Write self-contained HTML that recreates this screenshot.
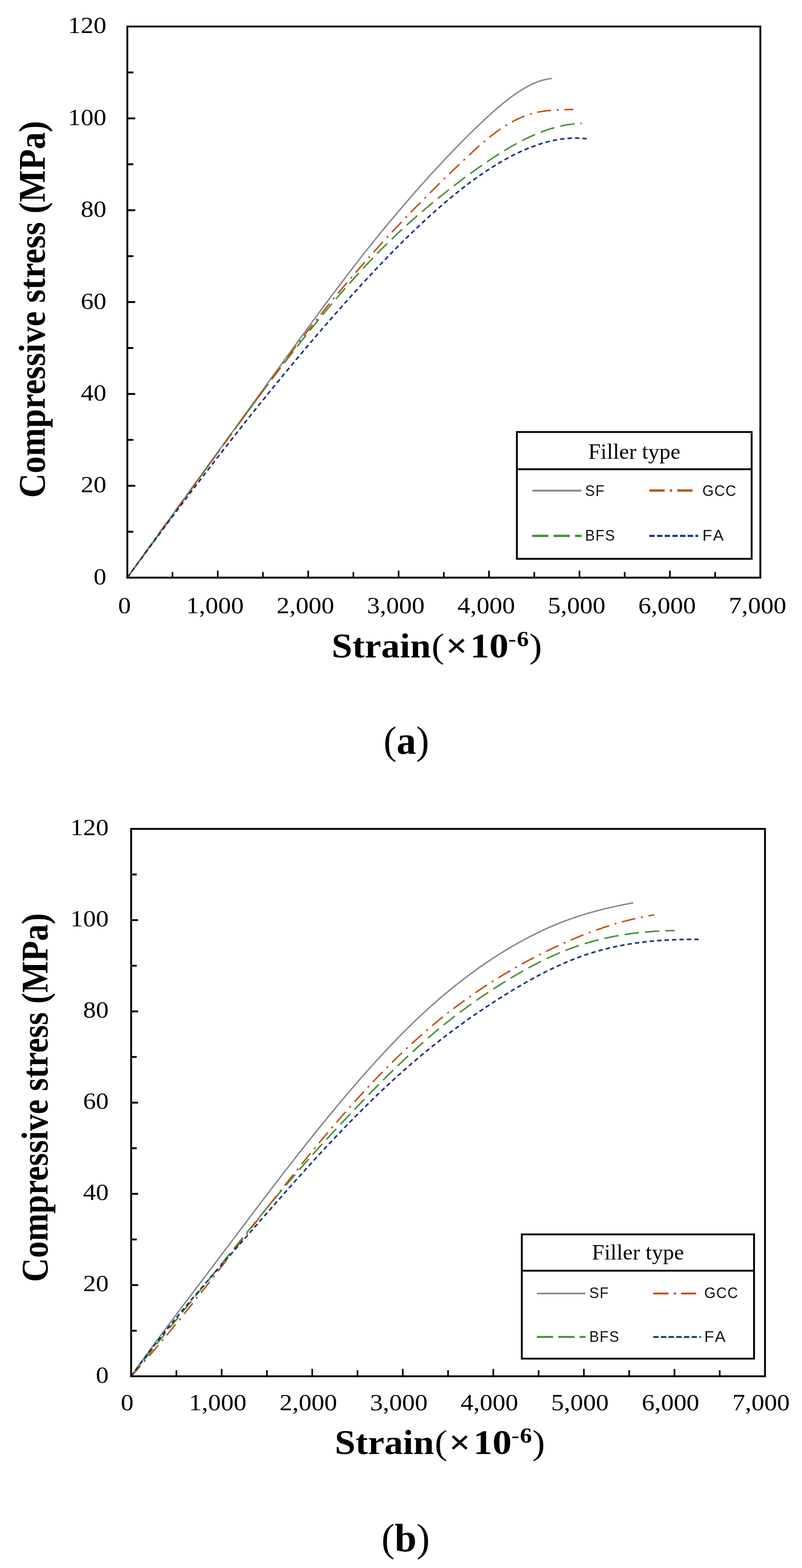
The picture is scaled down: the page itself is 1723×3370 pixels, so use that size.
<!DOCTYPE html>
<html><head><meta charset="utf-8"><title>Compressive stress-strain curves</title>
<style>html,body{margin:0;padding:0;background:#fff}body{width:1723px;height:3370px;overflow:hidden}svg{display:block}</style>
</head><body>
<svg width="1723" height="3370" viewBox="0 0 1723 3370">
<style>
.tk{font-family:"Liberation Serif",serif;fill:#000}
.bt{font-family:"Liberation Serif",serif;font-weight:bold;fill:#000}
.lg{font-family:"Liberation Sans",sans-serif;fill:#111}
.cap{font-family:"Liberation Serif",serif;fill:#000}
</style>
<rect width="1723" height="3370" fill="#fff"/>
<path d="M273.5,1241.5 L276.5,1237.3 L279.5,1233.1 L282.5,1228.9 L285.5,1224.8 L288.5,1220.6 L291.5,1216.4 L294.5,1212.2 L297.5,1208.0 L300.5,1203.9 L303.5,1199.7 L306.5,1195.5 L309.5,1191.3 L312.5,1187.2 L315.5,1183.0 L318.5,1178.8 L321.5,1174.6 L324.5,1170.5 L327.5,1166.3 L330.5,1162.1 L333.5,1158.0 L336.5,1153.8 L339.5,1149.6 L342.5,1145.5 L345.5,1141.3 L348.5,1137.1 L351.5,1133.0 L354.5,1128.8 L357.5,1124.6 L360.5,1120.5 L363.5,1116.3 L366.5,1112.1 L369.5,1108.0 L372.5,1103.8 L375.5,1099.7 L378.5,1095.5 L381.5,1091.3 L384.5,1087.2 L387.5,1083.0 L390.5,1078.9 L393.5,1074.7 L396.5,1070.5 L399.5,1066.4 L402.5,1062.2 L405.5,1058.1 L408.5,1053.9 L411.5,1049.7 L414.5,1045.6 L417.5,1041.4 L420.5,1037.3 L423.5,1033.1 L426.5,1029.0 L429.5,1024.8 L432.5,1020.7 L435.5,1016.5 L438.5,1012.3 L441.5,1008.2 L444.5,1004.0 L447.5,999.9 L450.5,995.7 L453.5,991.6 L456.5,987.4 L459.5,983.3 L462.5,979.1 L465.5,975.0 L468.5,970.8 L471.5,966.7 L474.5,962.5 L477.5,958.4 L480.5,954.2 L483.5,950.1 L486.5,945.9 L489.5,941.8 L492.5,937.6 L495.5,933.5 L498.5,929.3 L501.5,925.2 L504.5,921.0 L507.5,916.9 L510.5,912.7 L513.5,908.6 L516.5,904.4 L519.5,900.3 L522.5,896.1 L525.5,892.0 L528.5,887.8 L531.5,883.7 L534.5,879.6 L537.5,875.4 L540.5,871.3 L543.5,867.1 L546.5,863.0 L549.5,858.8 L552.5,854.7 L555.5,850.5 L558.5,846.4 L561.5,842.2 L564.5,838.1 L567.5,834.0 L570.5,829.8 L573.5,825.7 L576.5,821.5 L579.5,817.4 L582.5,813.2 L585.5,809.1 L588.5,805.0 L591.5,800.8 L594.5,796.7 L597.5,792.5 L600.5,788.4 L603.5,784.3 L606.5,780.1 L609.5,776.0 L612.5,771.8 L615.5,767.7 L618.5,763.6 L621.5,759.4 L624.5,755.3 L627.5,751.2 L630.5,747.0 L633.5,742.9 L636.5,738.8 L639.5,734.7 L642.5,730.6 L645.5,726.4 L648.5,722.3 L651.5,718.2 L654.5,714.1 L657.5,710.0 L660.5,705.9 L663.5,701.8 L666.5,697.7 L669.5,693.6 L672.5,689.5 L675.5,685.5 L678.5,681.4 L681.5,677.3 L684.5,673.2 L687.5,669.2 L690.5,665.1 L693.5,661.1 L696.5,657.0 L699.5,653.0 L702.5,649.0 L705.5,644.9 L708.5,640.9 L711.5,636.9 L714.5,632.9 L717.5,628.9 L720.5,624.9 L723.5,620.9 L726.5,616.9 L729.5,613.0 L732.5,609.0 L735.5,605.0 L738.5,601.1 L741.5,597.1 L744.5,593.2 L747.5,589.3 L750.5,585.4 L753.5,581.5 L756.5,577.6 L759.5,573.7 L762.5,569.8 L765.5,565.9 L768.5,562.1 L771.5,558.2 L774.5,554.4 L777.5,550.6 L780.5,546.7 L783.5,542.9 L786.5,539.1 L789.5,535.4 L792.5,531.6 L795.5,527.8 L798.5,524.1 L801.5,520.3 L804.5,516.6 L807.5,512.9 L810.5,509.2 L813.5,505.5 L816.5,501.8 L819.5,498.1 L822.5,494.5 L825.5,490.8 L828.5,487.2 L831.5,483.6 L834.5,480.0 L837.5,476.3 L840.5,472.8 L843.5,469.2 L846.5,465.6 L849.5,462.0 L852.5,458.5 L855.5,454.9 L858.5,451.4 L861.5,447.9 L864.5,444.4 L867.5,440.9 L870.5,437.4 L873.5,433.9 L876.5,430.4 L879.5,427.0 L882.5,423.5 L885.5,420.1 L888.5,416.6 L891.5,413.2 L894.5,409.8 L897.5,406.4 L900.5,403.0 L903.5,399.6 L906.5,396.3 L909.5,392.9 L912.5,389.6 L915.5,386.2 L918.5,382.9 L921.5,379.6 L924.5,376.3 L927.5,373.0 L930.5,369.7 L933.5,366.4 L936.5,363.2 L939.5,359.9 L942.5,356.7 L945.5,353.4 L948.5,350.2 L951.5,347.0 L954.5,343.8 L957.5,340.6 L960.5,337.4 L963.5,334.3 L966.5,331.1 L969.5,328.0 L972.5,324.9 L975.5,321.7 L978.5,318.6 L981.5,315.5 L984.5,312.5 L987.5,309.4 L990.5,306.3 L993.5,303.3 L996.5,300.3 L999.5,297.3 L1002.5,294.3 L1005.5,291.3 L1008.5,288.3 L1011.5,285.3 L1014.5,282.4 L1017.5,279.5 L1020.5,276.5 L1023.5,273.6 L1026.5,270.8 L1029.5,267.9 L1032.5,265.0 L1035.5,262.2 L1038.5,259.4 L1041.5,256.6 L1044.5,253.8 L1047.5,251.0 L1050.5,248.3 L1053.5,245.6 L1056.5,242.9 L1059.5,240.2 L1062.5,237.6 L1065.5,235.0 L1068.5,232.4 L1071.5,229.8 L1074.5,227.3 L1077.5,224.8 L1080.5,222.3 L1083.5,219.9 L1086.5,217.5 L1089.5,215.2 L1092.5,212.8 L1095.5,210.6 L1098.5,208.3 L1101.5,206.1 L1104.5,204.0 L1107.5,201.9 L1110.5,199.8 L1113.5,197.8 L1116.5,195.9 L1119.5,194.0 L1122.5,192.1 L1125.5,190.3 L1128.5,188.6 L1131.5,186.9 L1134.5,185.3 L1137.5,183.7 L1140.5,182.2 L1143.5,180.8 L1146.5,179.4 L1149.5,178.1 L1152.5,176.9 L1155.5,175.7 L1158.5,174.7 L1161.5,173.7 L1164.5,172.8 L1167.5,171.9 L1170.5,171.2 L1173.5,170.5 L1176.5,169.9 L1179.5,169.4 L1182.5,169.0 L1185.5,168.7 L1186.0,168.7" fill="none" stroke="#868686" stroke-width="3.0" stroke-linejoin="round"/>
<path d="M273.5,1241.5 L276.5,1237.4 L279.5,1233.3 L282.5,1229.2 L285.5,1225.2 L288.5,1221.1 L291.5,1217.0 L294.5,1212.9 L297.5,1208.8 L300.5,1204.6 L303.5,1200.5 L306.5,1196.4 L309.5,1192.3 L312.5,1188.2 L315.5,1184.0 L318.5,1179.9 L321.5,1175.8 L324.5,1171.6 L327.5,1167.5 L330.5,1163.4 L333.5,1159.2 L336.5,1155.1 L339.5,1150.9 L342.5,1146.8 L345.5,1142.6 L348.5,1138.5 L351.5,1134.3 L354.5,1130.2 L357.5,1126.0 L360.5,1121.8 L363.5,1117.7 L366.5,1113.5 L369.5,1109.3 L372.5,1105.2 L375.5,1101.0 L378.5,1096.8 L381.5,1092.7 L384.5,1088.5 L387.5,1084.3 L390.5,1080.2 L393.5,1076.0 L396.5,1071.8 L399.5,1067.7 L402.5,1063.5 L405.5,1059.3 L408.5,1055.1 L411.5,1051.0 L414.5,1046.8 L417.5,1042.6 L420.5,1038.5 L423.5,1034.3 L426.5,1030.1 L429.5,1025.9 L432.5,1021.8 L435.5,1017.6 L438.5,1013.4 L441.5,1009.3 L444.5,1005.1 L447.5,1001.0 L450.5,996.8 L453.5,992.6 L456.5,988.5 L459.5,984.3 L462.5,980.2 L465.5,976.0 L468.5,971.9 L471.5,967.7 L474.5,963.6 L477.5,959.5 L480.5,955.3 L483.5,951.2 L486.5,947.1 L489.5,942.9 L492.5,938.8 L495.5,934.7 L498.5,930.6 L501.5,926.5 L504.5,922.4 L507.5,918.3 L510.5,914.1 L513.5,910.1 L516.5,906.0 L519.5,901.9 L522.5,897.8 L525.5,893.7 L528.5,889.6 L531.5,885.6 L534.5,881.5 L537.5,877.4 L540.5,873.4 L543.5,869.3 L546.5,865.3 L549.5,861.2 L552.5,857.2 L555.5,853.2 L558.5,849.1 L561.5,845.1 L564.5,841.1 L567.5,837.1 L570.5,833.1 L573.5,829.1 L576.5,825.1 L579.5,821.2 L582.5,817.2 L585.5,813.2 L588.5,809.3 L591.5,805.3 L594.5,801.4 L597.5,797.4 L600.5,793.5 L603.5,789.6 L606.5,785.7 L609.5,781.8 L612.5,777.9 L615.5,774.0 L618.5,770.1 L621.5,766.2 L624.5,762.4 L627.5,758.5 L630.5,754.7 L633.5,750.8 L636.5,747.0 L639.5,743.2 L642.5,739.4 L645.5,735.6 L648.5,731.8 L651.5,728.0 L654.5,724.2 L657.5,720.5 L660.5,716.7 L663.5,713.0 L666.5,709.3 L669.5,705.5 L672.5,701.8 L675.5,698.1 L678.5,694.4 L681.5,690.8 L684.5,687.1 L687.5,683.4 L690.5,679.8 L693.5,676.2 L696.5,672.5 L699.5,668.9 L702.5,665.3 L705.5,661.8 L708.5,658.2 L711.5,654.6 L714.5,651.1 L717.5,647.5 L720.5,644.0 L723.5,640.5 L726.5,637.0 L729.5,633.5 L732.5,630.1 L735.5,626.6 L738.5,623.2 L741.5,619.7 L744.5,616.3 L747.5,612.9 L750.5,609.5 L753.5,606.1 L756.5,602.8 L759.5,599.4 L762.5,596.1 L765.5,592.8 L768.5,589.5 L771.5,586.2 L774.5,582.9 L777.5,579.7 L780.5,576.4 L783.5,573.2 L786.5,570.0 L789.5,566.8 L792.5,563.6 L795.5,560.4 L798.5,557.3 L801.5,554.2 L804.5,551.0 L807.5,548.0 L810.5,544.9 L813.5,541.8 L816.5,538.8 L819.5,535.7 L822.5,532.7 L825.5,529.7 L828.5,526.7 L831.5,523.8 L834.5,520.8 L837.5,517.9 L840.5,515.0 L843.5,512.1 L846.5,509.2 L849.5,506.4 L852.5,503.5 L855.5,500.7 L858.5,497.9 L861.5,495.1 L864.5,492.3 L867.5,489.6 L870.5,486.8 L873.5,484.1 L876.5,481.4 L879.5,478.7 L882.5,476.0 L885.5,473.3 L888.5,470.7 L891.5,468.1 L894.5,465.4 L897.5,462.8 L900.5,460.2 L903.5,457.6 L906.5,455.1 L909.5,452.5 L912.5,450.0 L915.5,447.4 L918.5,444.9 L921.5,442.4 L924.5,439.9 L927.5,437.4 L930.5,434.9 L933.5,432.4 L936.5,430.0 L939.5,427.5 L942.5,425.1 L945.5,422.7 L948.5,420.3 L951.5,417.9 L954.5,415.5 L957.5,413.1 L960.5,410.7 L963.5,408.4 L966.5,406.0 L969.5,403.7 L972.5,401.3 L975.5,399.0 L978.5,396.7 L981.5,394.4 L984.5,392.2 L987.5,389.9 L990.5,387.6 L993.5,385.4 L996.5,383.1 L999.5,380.9 L1002.5,378.7 L1005.5,376.5 L1008.5,374.3 L1011.5,372.1 L1014.5,370.0 L1017.5,367.8 L1020.5,365.7 L1023.5,363.6 L1026.5,361.4 L1029.5,359.3 L1032.5,357.2 L1035.5,355.2 L1038.5,353.1 L1041.5,351.0 L1044.5,349.0 L1047.5,347.0 L1050.5,345.0 L1053.5,343.0 L1056.5,341.0 L1059.5,339.0 L1062.5,337.0 L1065.5,335.1 L1068.5,333.2 L1071.5,331.3 L1074.5,329.4 L1077.5,327.5 L1080.5,325.7 L1083.5,323.8 L1086.5,322.0 L1089.5,320.2 L1092.5,318.4 L1095.5,316.7 L1098.5,314.9 L1101.5,313.2 L1104.5,311.5 L1107.5,309.9 L1110.5,308.2 L1113.5,306.6 L1116.5,305.0 L1119.5,303.4 L1122.5,301.9 L1125.5,300.4 L1128.5,298.9 L1131.5,297.4 L1134.5,296.0 L1137.5,294.5 L1140.5,293.1 L1143.5,291.8 L1146.5,290.5 L1149.5,289.1 L1152.5,287.9 L1155.5,286.6 L1158.5,285.4 L1161.5,284.2 L1164.5,283.1 L1167.5,282.0 L1170.5,280.9 L1173.5,279.8 L1176.5,278.8 L1179.5,277.8 L1182.5,276.9 L1185.5,275.9 L1188.5,275.1 L1191.5,274.2 L1194.5,273.4 L1197.5,272.6 L1200.5,271.9 L1203.5,271.2 L1206.5,270.5 L1209.5,269.9 L1212.5,269.3 L1215.5,268.7 L1218.5,268.2 L1221.5,267.8 L1224.5,267.3 L1227.5,267.0 L1230.5,266.6 L1233.5,266.3 L1236.5,266.0 L1239.5,265.8 L1242.5,265.6 L1245.5,265.5 L1248.5,265.4 L1249.8,265.4" fill="none" stroke="#449137" stroke-width="3.2" stroke-dasharray="31 13" stroke-linejoin="round"/>
<path d="M273.5,1241.5 L276.5,1237.3 L279.5,1233.0 L282.5,1228.8 L285.5,1224.6 L288.5,1220.3 L291.5,1216.1 L294.5,1211.9 L297.5,1207.7 L300.5,1203.5 L303.5,1199.3 L306.5,1195.1 L309.5,1190.9 L312.5,1186.7 L315.5,1182.5 L318.5,1178.3 L321.5,1174.2 L324.5,1170.0 L327.5,1165.8 L330.5,1161.7 L333.5,1157.5 L336.5,1153.3 L339.5,1149.2 L342.5,1145.0 L345.5,1140.9 L348.5,1136.7 L351.5,1132.6 L354.5,1128.4 L357.5,1124.3 L360.5,1120.1 L363.5,1116.0 L366.5,1111.9 L369.5,1107.7 L372.5,1103.6 L375.5,1099.5 L378.5,1095.3 L381.5,1091.2 L384.5,1087.1 L387.5,1083.0 L390.5,1078.8 L393.5,1074.7 L396.5,1070.6 L399.5,1066.5 L402.5,1062.4 L405.5,1058.3 L408.5,1054.1 L411.5,1050.0 L414.5,1045.9 L417.5,1041.8 L420.5,1037.7 L423.5,1033.6 L426.5,1029.5 L429.5,1025.4 L432.5,1021.3 L435.5,1017.2 L438.5,1013.1 L441.5,1009.0 L444.5,1004.9 L447.5,1000.7 L450.5,996.6 L453.5,992.5 L456.5,988.4 L459.5,984.3 L462.5,980.2 L465.5,976.1 L468.5,972.0 L471.5,967.9 L474.5,963.8 L477.5,959.7 L480.5,955.6 L483.5,951.5 L486.5,947.4 L489.5,943.2 L492.5,939.1 L495.5,935.0 L498.5,930.9 L501.5,926.8 L504.5,922.7 L507.5,918.6 L510.5,914.4 L513.5,910.3 L516.5,906.2 L519.5,902.1 L522.5,897.9 L525.5,893.8 L528.5,889.7 L531.5,885.5 L534.5,881.4 L537.5,877.3 L540.5,873.1 L543.5,869.0 L546.5,864.9 L549.5,860.8 L552.5,856.6 L555.5,852.5 L558.5,848.4 L561.5,844.3 L564.5,840.1 L567.5,836.0 L570.5,831.9 L573.5,827.8 L576.5,823.7 L579.5,819.6 L582.5,815.5 L585.5,811.4 L588.5,807.3 L591.5,803.2 L594.5,799.2 L597.5,795.1 L600.5,791.0 L603.5,787.0 L606.5,782.9 L609.5,778.9 L612.5,774.9 L615.5,770.9 L618.5,766.8 L621.5,762.8 L624.5,758.9 L627.5,754.9 L630.5,750.9 L633.5,746.9 L636.5,743.0 L639.5,739.0 L642.5,735.1 L645.5,731.2 L648.5,727.3 L651.5,723.4 L654.5,719.5 L657.5,715.7 L660.5,711.8 L663.5,708.0 L666.5,704.1 L669.5,700.3 L672.5,696.5 L675.5,692.7 L678.5,688.9 L681.5,685.2 L684.5,681.4 L687.5,677.7 L690.5,673.9 L693.5,670.2 L696.5,666.5 L699.5,662.8 L702.5,659.1 L705.5,655.4 L708.5,651.8 L711.5,648.1 L714.5,644.5 L717.5,640.8 L720.5,637.2 L723.5,633.6 L726.5,630.0 L729.5,626.4 L732.5,622.8 L735.5,619.3 L738.5,615.7 L741.5,612.2 L744.5,608.6 L747.5,605.1 L750.5,601.6 L753.5,598.1 L756.5,594.6 L759.5,591.1 L762.5,587.6 L765.5,584.1 L768.5,580.7 L771.5,577.2 L774.5,573.8 L777.5,570.4 L780.5,567.0 L783.5,563.6 L786.5,560.2 L789.5,556.8 L792.5,553.4 L795.5,550.0 L798.5,546.7 L801.5,543.3 L804.5,540.0 L807.5,536.6 L810.5,533.3 L813.5,530.0 L816.5,526.7 L819.5,523.4 L822.5,520.1 L825.5,516.9 L828.5,513.6 L831.5,510.3 L834.5,507.1 L837.5,503.9 L840.5,500.6 L843.5,497.4 L846.5,494.2 L849.5,491.0 L852.5,487.8 L855.5,484.6 L858.5,481.5 L861.5,478.3 L864.5,475.2 L867.5,472.0 L870.5,468.9 L873.5,465.7 L876.5,462.6 L879.5,459.5 L882.5,456.4 L885.5,453.3 L888.5,450.2 L891.5,447.1 L894.5,444.1 L897.5,441.0 L900.5,438.0 L903.5,434.9 L906.5,431.9 L909.5,428.8 L912.5,425.8 L915.5,422.8 L918.5,419.8 L921.5,416.8 L924.5,413.8 L927.5,410.8 L930.5,407.8 L933.5,404.8 L936.5,401.9 L939.5,398.9 L942.5,396.0 L945.5,393.0 L948.5,390.1 L951.5,387.2 L954.5,384.2 L957.5,381.3 L960.5,378.4 L963.5,375.5 L966.5,372.6 L969.5,369.7 L972.5,366.8 L975.5,363.9 L978.5,361.1 L981.5,358.2 L984.5,355.3 L987.5,352.5 L990.5,349.6 L993.5,346.8 L996.5,344.0 L999.5,341.2 L1002.5,338.3 L1005.5,335.5 L1008.5,332.7 L1011.5,330.0 L1014.5,327.2 L1017.5,324.4 L1020.5,321.7 L1023.5,319.0 L1026.5,316.3 L1029.5,313.6 L1032.5,311.0 L1035.5,308.4 L1038.5,305.8 L1041.5,303.2 L1044.5,300.7 L1047.5,298.2 L1050.5,295.8 L1053.5,293.3 L1056.5,291.0 L1059.5,288.7 L1062.5,286.4 L1065.5,284.1 L1068.5,281.9 L1071.5,279.8 L1074.5,277.7 L1077.5,275.7 L1080.5,273.7 L1083.5,271.8 L1086.5,269.9 L1089.5,268.1 L1092.5,266.3 L1095.5,264.6 L1098.5,262.9 L1101.5,261.2 L1104.5,259.7 L1107.5,258.1 L1110.5,256.7 L1113.5,255.3 L1116.5,253.9 L1119.5,252.6 L1122.5,251.3 L1125.5,250.1 L1128.5,249.0 L1131.5,247.9 L1134.5,246.8 L1137.5,245.9 L1140.5,244.9 L1143.5,244.1 L1146.5,243.2 L1149.5,242.5 L1152.5,241.8 L1155.5,241.1 L1158.5,240.5 L1161.5,240.0 L1164.5,239.5 L1167.5,239.0 L1170.5,238.6 L1173.5,238.2 L1176.5,237.9 L1179.5,237.6 L1182.5,237.3 L1185.5,237.1 L1188.5,236.8 L1191.5,236.6 L1194.5,236.5 L1197.5,236.3 L1200.5,236.2 L1203.5,236.0 L1206.5,235.9 L1209.5,235.8 L1212.5,235.7 L1215.5,235.6 L1218.5,235.6 L1221.5,235.5 L1224.5,235.4 L1227.5,235.3 L1230.5,235.2 L1231.7,235.2" fill="none" stroke="#bf5216" stroke-width="3.2" stroke-dasharray="30 12 4.5 12" stroke-linejoin="round"/>
<path d="M273.5,1241.5 L276.5,1237.4 L279.5,1233.3 L282.5,1229.2 L285.5,1225.1 L288.5,1221.0 L291.5,1216.8 L294.5,1212.8 L297.5,1208.7 L300.5,1204.6 L303.5,1200.5 L306.5,1196.4 L309.5,1192.3 L312.5,1188.2 L315.5,1184.2 L318.5,1180.1 L321.5,1176.0 L324.5,1172.0 L327.5,1167.9 L330.5,1163.9 L333.5,1159.8 L336.5,1155.8 L339.5,1151.7 L342.5,1147.7 L345.5,1143.6 L348.5,1139.6 L351.5,1135.6 L354.5,1131.6 L357.5,1127.5 L360.5,1123.5 L363.5,1119.5 L366.5,1115.5 L369.5,1111.5 L372.5,1107.5 L375.5,1103.5 L378.5,1099.5 L381.5,1095.5 L384.5,1091.5 L387.5,1087.5 L390.5,1083.6 L393.5,1079.6 L396.5,1075.6 L399.5,1071.7 L402.5,1067.7 L405.5,1063.7 L408.5,1059.8 L411.5,1055.8 L414.5,1051.9 L417.5,1048.0 L420.5,1044.0 L423.5,1040.1 L426.5,1036.2 L429.5,1032.2 L432.5,1028.3 L435.5,1024.4 L438.5,1020.5 L441.5,1016.6 L444.5,1012.7 L447.5,1008.8 L450.5,1004.9 L453.5,1001.0 L456.5,997.1 L459.5,993.3 L462.5,989.4 L465.5,985.5 L468.5,981.7 L471.5,977.8 L474.5,973.9 L477.5,970.1 L480.5,966.2 L483.5,962.4 L486.5,958.6 L489.5,954.7 L492.5,950.9 L495.5,947.1 L498.5,943.2 L501.5,939.4 L504.5,935.6 L507.5,931.8 L510.5,928.0 L513.5,924.2 L516.5,920.4 L519.5,916.6 L522.5,912.8 L525.5,909.1 L528.5,905.3 L531.5,901.5 L534.5,897.8 L537.5,894.0 L540.5,890.2 L543.5,886.5 L546.5,882.7 L549.5,879.0 L552.5,875.3 L555.5,871.5 L558.5,867.8 L561.5,864.1 L564.5,860.4 L567.5,856.7 L570.5,852.9 L573.5,849.2 L576.5,845.5 L579.5,841.8 L582.5,838.2 L585.5,834.5 L588.5,830.8 L591.5,827.1 L594.5,823.5 L597.5,819.8 L600.5,816.1 L603.5,812.5 L606.5,808.8 L609.5,805.2 L612.5,801.6 L615.5,797.9 L618.5,794.3 L621.5,790.7 L624.5,787.1 L627.5,783.5 L630.5,779.9 L633.5,776.3 L636.5,772.7 L639.5,769.1 L642.5,765.5 L645.5,761.9 L648.5,758.3 L651.5,754.8 L654.5,751.2 L657.5,747.7 L660.5,744.1 L663.5,740.6 L666.5,737.0 L669.5,733.5 L672.5,730.0 L675.5,726.5 L678.5,722.9 L681.5,719.4 L684.5,715.9 L687.5,712.4 L690.5,709.0 L693.5,705.5 L696.5,702.0 L699.5,698.5 L702.5,695.1 L705.5,691.6 L708.5,688.2 L711.5,684.7 L714.5,681.3 L717.5,677.9 L720.5,674.4 L723.5,671.0 L726.5,667.6 L729.5,664.2 L732.5,660.8 L735.5,657.4 L738.5,654.0 L741.5,650.7 L744.5,647.3 L747.5,644.0 L750.5,640.6 L753.5,637.3 L756.5,633.9 L759.5,630.6 L762.5,627.3 L765.5,624.0 L768.5,620.7 L771.5,617.4 L774.5,614.1 L777.5,610.8 L780.5,607.6 L783.5,604.3 L786.5,601.1 L789.5,597.8 L792.5,594.6 L795.5,591.4 L798.5,588.2 L801.5,585.0 L804.5,581.8 L807.5,578.6 L810.5,575.4 L813.5,572.3 L816.5,569.1 L819.5,566.0 L822.5,562.8 L825.5,559.7 L828.5,556.6 L831.5,553.5 L834.5,550.4 L837.5,547.3 L840.5,544.2 L843.5,541.2 L846.5,538.1 L849.5,535.1 L852.5,532.1 L855.5,529.0 L858.5,526.0 L861.5,523.0 L864.5,520.1 L867.5,517.1 L870.5,514.1 L873.5,511.2 L876.5,508.2 L879.5,505.3 L882.5,502.4 L885.5,499.5 L888.5,496.6 L891.5,493.7 L894.5,490.9 L897.5,488.0 L900.5,485.2 L903.5,482.4 L906.5,479.6 L909.5,476.8 L912.5,474.0 L915.5,471.2 L918.5,468.5 L921.5,465.7 L924.5,463.0 L927.5,460.3 L930.5,457.6 L933.5,454.9 L936.5,452.3 L939.5,449.6 L942.5,447.0 L945.5,444.4 L948.5,441.8 L951.5,439.2 L954.5,436.6 L957.5,434.1 L960.5,431.5 L963.5,429.0 L966.5,426.5 L969.5,424.0 L972.5,421.5 L975.5,419.1 L978.5,416.6 L981.5,414.2 L984.5,411.8 L987.5,409.4 L990.5,407.0 L993.5,404.7 L996.5,402.4 L999.5,400.1 L1002.5,397.8 L1005.5,395.5 L1008.5,393.2 L1011.5,391.0 L1014.5,388.8 L1017.5,386.6 L1020.5,384.4 L1023.5,382.3 L1026.5,380.1 L1029.5,378.0 L1032.5,375.9 L1035.5,373.8 L1038.5,371.8 L1041.5,369.8 L1044.5,367.8 L1047.5,365.8 L1050.5,363.8 L1053.5,361.9 L1056.5,360.0 L1059.5,358.1 L1062.5,356.2 L1065.5,354.4 L1068.5,352.5 L1071.5,350.7 L1074.5,349.0 L1077.5,347.2 L1080.5,345.5 L1083.5,343.8 L1086.5,342.1 L1089.5,340.5 L1092.5,338.8 L1095.5,337.2 L1098.5,335.7 L1101.5,334.1 L1104.5,332.6 L1107.5,331.1 L1110.5,329.6 L1113.5,328.2 L1116.5,326.8 L1119.5,325.4 L1122.5,324.1 L1125.5,322.7 L1128.5,321.4 L1131.5,320.2 L1134.5,318.9 L1137.5,317.7 L1140.5,316.6 L1143.5,315.4 L1146.5,314.3 L1149.5,313.2 L1152.5,312.1 L1155.5,311.1 L1158.5,310.1 L1161.5,309.2 L1164.5,308.2 L1167.5,307.4 L1170.5,306.5 L1173.5,305.7 L1176.5,304.9 L1179.5,304.1 L1182.5,303.4 L1185.5,302.7 L1188.5,302.0 L1191.5,301.4 L1194.5,300.9 L1197.5,300.3 L1200.5,299.8 L1203.5,299.3 L1206.5,298.9 L1209.5,298.5 L1212.5,298.2 L1215.5,297.8 L1218.5,297.6 L1221.5,297.3 L1224.5,297.2 L1227.5,297.0 L1230.5,296.9 L1233.5,296.8 L1236.5,296.8 L1239.5,296.8 L1242.5,296.9 L1245.5,297.0 L1248.5,297.2 L1251.5,297.4 L1254.5,297.6 L1257.5,297.9 L1260.4,298.2" fill="none" stroke="#12337f" stroke-width="3.4" stroke-dasharray="9.5 6.5" stroke-linejoin="round"/>
<rect x="273.5" y="57" width="1360.0" height="1184.5" fill="none" stroke="#000" stroke-width="4"/>
<line x1="273.5" y1="1142.8" x2="286.5" y2="1142.8" stroke="#000" stroke-width="4"/>
<line x1="273.5" y1="1044.1" x2="290.5" y2="1044.1" stroke="#000" stroke-width="4"/>
<line x1="273.5" y1="945.4" x2="286.5" y2="945.4" stroke="#000" stroke-width="4"/>
<line x1="273.5" y1="846.7" x2="290.5" y2="846.7" stroke="#000" stroke-width="4"/>
<line x1="273.5" y1="748.0" x2="286.5" y2="748.0" stroke="#000" stroke-width="4"/>
<line x1="273.5" y1="649.2" x2="290.5" y2="649.2" stroke="#000" stroke-width="4"/>
<line x1="273.5" y1="550.5" x2="286.5" y2="550.5" stroke="#000" stroke-width="4"/>
<line x1="273.5" y1="451.8" x2="290.5" y2="451.8" stroke="#000" stroke-width="4"/>
<line x1="273.5" y1="353.1" x2="286.5" y2="353.1" stroke="#000" stroke-width="4"/>
<line x1="273.5" y1="254.4" x2="290.5" y2="254.4" stroke="#000" stroke-width="4"/>
<line x1="273.5" y1="155.7" x2="286.5" y2="155.7" stroke="#000" stroke-width="4"/>
<line x1="370.6" y1="1241.5" x2="370.6" y2="1229.5" stroke="#000" stroke-width="3.5"/>
<line x1="467.8" y1="1241.5" x2="467.8" y2="1226.5" stroke="#000" stroke-width="3.5"/>
<line x1="564.9" y1="1241.5" x2="564.9" y2="1229.5" stroke="#000" stroke-width="3.5"/>
<line x1="662.1" y1="1241.5" x2="662.1" y2="1226.5" stroke="#000" stroke-width="3.5"/>
<line x1="759.2" y1="1241.5" x2="759.2" y2="1229.5" stroke="#000" stroke-width="3.5"/>
<line x1="856.4" y1="1241.5" x2="856.4" y2="1226.5" stroke="#000" stroke-width="3.5"/>
<line x1="953.5" y1="1241.5" x2="953.5" y2="1229.5" stroke="#000" stroke-width="3.5"/>
<line x1="1050.6" y1="1241.5" x2="1050.6" y2="1226.5" stroke="#000" stroke-width="3.5"/>
<line x1="1147.8" y1="1241.5" x2="1147.8" y2="1229.5" stroke="#000" stroke-width="3.5"/>
<line x1="1244.9" y1="1241.5" x2="1244.9" y2="1226.5" stroke="#000" stroke-width="3.5"/>
<line x1="1342.1" y1="1241.5" x2="1342.1" y2="1229.5" stroke="#000" stroke-width="3.5"/>
<line x1="1439.2" y1="1241.5" x2="1439.2" y2="1226.5" stroke="#000" stroke-width="3.5"/>
<line x1="1536.4" y1="1241.5" x2="1536.4" y2="1229.5" stroke="#000" stroke-width="3.5"/>
<text transform="translate(228.5,1255.8) scale(1.1,1)" text-anchor="end" class="tk" font-size="50">0</text>
<text transform="translate(228.5,1058.4) scale(1.1,1)" text-anchor="end" class="tk" font-size="50">20</text>
<text transform="translate(228.5,861.0) scale(1.1,1)" text-anchor="end" class="tk" font-size="50">40</text>
<text transform="translate(228.5,663.5) scale(1.1,1)" text-anchor="end" class="tk" font-size="50">60</text>
<text transform="translate(228.5,466.1) scale(1.1,1)" text-anchor="end" class="tk" font-size="50">80</text>
<text transform="translate(228.5,268.7) scale(1.1,1)" text-anchor="end" class="tk" font-size="50">100</text>
<text transform="translate(228.5,71.3) scale(1.1,1)" text-anchor="end" class="tk" font-size="50">120</text>
<text transform="translate(267.5,1317.5) scale(1.1,1)" text-anchor="middle" class="tk" font-size="50">0</text>
<text transform="translate(461.8,1317.5) scale(1.1,1)" text-anchor="middle" class="tk" font-size="50">1,000</text>
<text transform="translate(656.1,1317.5) scale(1.1,1)" text-anchor="middle" class="tk" font-size="50">2,000</text>
<text transform="translate(850.4,1317.5) scale(1.1,1)" text-anchor="middle" class="tk" font-size="50">3,000</text>
<text transform="translate(1044.6,1317.5) scale(1.1,1)" text-anchor="middle" class="tk" font-size="50">4,000</text>
<text transform="translate(1238.9,1317.5) scale(1.1,1)" text-anchor="middle" class="tk" font-size="50">5,000</text>
<text transform="translate(1433.2,1317.5) scale(1.1,1)" text-anchor="middle" class="tk" font-size="50">6,000</text>
<text transform="translate(1627.5,1317.5) scale(1.1,1)" text-anchor="middle" class="tk" font-size="50">7,000</text>
<text transform="translate(96,665) rotate(-90) scale(0.915,1)" text-anchor="middle" class="bt" font-size="80">Compressive stress (MPa)</text>
<text transform="translate(712.6,1413.0) scale(1.065,1)" class="bt" font-size="75">Strain</text>
<text transform="translate(927.0,1413.0) scale(1.1,1)" class="tk" font-size="75">(</text>
<text transform="translate(957.5,1413.0) scale(1.1,1)" class="bt" font-size="75">×</text>
<text transform="translate(1010.0,1413.0) scale(1.1,1)" class="bt" font-size="75">10</text>
<text transform="translate(1092.0,1388.0) scale(1.1,1)" class="tk" font-size="46">-</text>
<text transform="translate(1110.2,1389.2) scale(1.1,1)" class="bt" font-size="47">6</text>
<text transform="translate(1136.9,1413.0) scale(1.1,1)" class="tk" font-size="75">)</text>
<rect x="1110.5" y="928.5" width="504.29999999999995" height="272.5" fill="#fff" stroke="#000" stroke-width="4"/>
<line x1="1110.5" y1="1008.6" x2="1614.8" y2="1008.6" stroke="#000" stroke-width="4"/>
<text transform="translate(1362.7,985.5) scale(1.04,1)" text-anchor="middle" class="tk" font-size="46">Filler type</text>
<line x1="1143.7" y1="1054.5" x2="1249.2" y2="1054.5" stroke="#868686" stroke-width="4"/>
<text transform="translate(1257,1066.3) scale(0.950,1)" class="lg" font-size="33" letter-spacing="1.5">SF</text>
<line x1="1395" y1="1054.3" x2="1491" y2="1054.3" stroke="#bf5216" stroke-width="5" stroke-dasharray="33 11 5 11"/>
<text transform="translate(1509,1066.3) scale(0.950,1)" class="lg" font-size="33" letter-spacing="1.5">GCC</text>
<line x1="1143.3" y1="1151.8" x2="1249.6" y2="1151.8" stroke="#449137" stroke-width="5" stroke-dasharray="35 11"/>
<text transform="translate(1257,1161.5) scale(0.950,1)" class="lg" font-size="33" letter-spacing="1.5">BFS</text>
<line x1="1395" y1="1151.8" x2="1500" y2="1151.8" stroke="#12337f" stroke-width="4.5" stroke-dasharray="11.5 5"/>
<text transform="translate(1509,1161.5) scale(1.045,1)" class="lg" font-size="33" letter-spacing="3.5">FA</text>
<text x="824" y="1620" class="cap" font-size="84">(<tspan font-weight="bold">a</tspan>)</text>
<path d="M281.7,2958.0 L284.7,2953.7 L287.7,2949.5 L290.7,2945.2 L293.7,2941.0 L296.7,2936.8 L299.7,2932.6 L302.7,2928.4 L305.7,2924.2 L308.7,2920.0 L311.7,2915.9 L314.7,2911.7 L317.7,2907.6 L320.7,2903.4 L323.7,2899.3 L326.7,2895.2 L329.7,2891.1 L332.7,2887.0 L335.7,2882.9 L338.7,2878.9 L341.7,2874.8 L344.7,2870.7 L347.7,2866.7 L350.7,2862.6 L353.7,2858.6 L356.7,2854.6 L359.7,2850.5 L362.7,2846.5 L365.7,2842.5 L368.7,2838.5 L371.7,2834.5 L374.7,2830.5 L377.7,2826.5 L380.7,2822.5 L383.7,2818.5 L386.7,2814.6 L389.7,2810.6 L392.7,2806.6 L395.7,2802.6 L398.7,2798.7 L401.7,2794.7 L404.7,2790.7 L407.7,2786.8 L410.7,2782.8 L413.7,2778.9 L416.7,2774.9 L419.7,2771.0 L422.7,2767.0 L425.7,2763.1 L428.7,2759.1 L431.7,2755.1 L434.7,2751.2 L437.7,2747.2 L440.7,2743.3 L443.7,2739.3 L446.7,2735.4 L449.7,2731.4 L452.7,2727.4 L455.7,2723.5 L458.7,2719.5 L461.7,2715.5 L464.7,2711.6 L467.7,2707.6 L470.7,2703.6 L473.7,2699.7 L476.7,2695.7 L479.7,2691.7 L482.7,2687.7 L485.7,2683.7 L488.7,2679.8 L491.7,2675.8 L494.7,2671.8 L497.7,2667.8 L500.7,2663.8 L503.7,2659.9 L506.7,2655.9 L509.7,2651.9 L512.7,2647.9 L515.7,2643.9 L518.7,2640.0 L521.7,2636.0 L524.7,2632.0 L527.7,2628.0 L530.7,2624.1 L533.7,2620.1 L536.7,2616.1 L539.7,2612.1 L542.7,2608.2 L545.7,2604.2 L548.7,2600.2 L551.7,2596.3 L554.7,2592.3 L557.7,2588.4 L560.7,2584.4 L563.7,2580.5 L566.7,2576.5 L569.7,2572.6 L572.7,2568.6 L575.7,2564.7 L578.7,2560.8 L581.7,2556.8 L584.7,2552.9 L587.7,2549.0 L590.7,2545.1 L593.7,2541.2 L596.7,2537.3 L599.7,2533.4 L602.7,2529.5 L605.7,2525.6 L608.7,2521.7 L611.7,2517.8 L614.7,2513.9 L617.7,2510.1 L620.7,2506.2 L623.7,2502.3 L626.7,2498.5 L629.7,2494.6 L632.7,2490.8 L635.7,2486.9 L638.7,2483.1 L641.7,2479.3 L644.7,2475.5 L647.7,2471.7 L650.7,2467.9 L653.7,2464.1 L656.7,2460.3 L659.7,2456.5 L662.7,2452.7 L665.7,2449.0 L668.7,2445.2 L671.7,2441.5 L674.7,2437.7 L677.7,2434.0 L680.7,2430.3 L683.7,2426.5 L686.7,2422.8 L689.7,2419.1 L692.7,2415.4 L695.7,2411.8 L698.7,2408.1 L701.7,2404.4 L704.7,2400.8 L707.7,2397.1 L710.7,2393.5 L713.7,2389.8 L716.7,2386.2 L719.7,2382.6 L722.7,2379.0 L725.7,2375.4 L728.7,2371.8 L731.7,2368.2 L734.7,2364.7 L737.7,2361.1 L740.7,2357.6 L743.7,2354.0 L746.7,2350.5 L749.7,2347.0 L752.7,2343.4 L755.7,2339.9 L758.7,2336.5 L761.7,2333.0 L764.7,2329.5 L767.7,2326.0 L770.7,2322.6 L773.7,2319.1 L776.7,2315.7 L779.7,2312.3 L782.7,2308.9 L785.7,2305.5 L788.7,2302.1 L791.7,2298.7 L794.7,2295.4 L797.7,2292.0 L800.7,2288.7 L803.7,2285.4 L806.7,2282.1 L809.7,2278.8 L812.7,2275.5 L815.7,2272.2 L818.7,2269.0 L821.7,2265.7 L824.7,2262.5 L827.7,2259.3 L830.7,2256.1 L833.7,2252.9 L836.7,2249.7 L839.7,2246.5 L842.7,2243.4 L845.7,2240.3 L848.7,2237.2 L851.7,2234.1 L854.7,2231.0 L857.7,2227.9 L860.7,2224.8 L863.7,2221.8 L866.7,2218.8 L869.7,2215.8 L872.7,2212.8 L875.7,2209.8 L878.7,2206.9 L881.7,2203.9 L884.7,2201.0 L887.7,2198.1 L890.7,2195.2 L893.7,2192.3 L896.7,2189.5 L899.7,2186.6 L902.7,2183.8 L905.7,2181.0 L908.7,2178.2 L911.7,2175.4 L914.7,2172.7 L917.7,2169.9 L920.7,2167.2 L923.7,2164.5 L926.7,2161.8 L929.7,2159.1 L932.7,2156.5 L935.7,2153.8 L938.7,2151.2 L941.7,2148.6 L944.7,2146.0 L947.7,2143.4 L950.7,2140.9 L953.7,2138.4 L956.7,2135.8 L959.7,2133.3 L962.7,2130.8 L965.7,2128.4 L968.7,2125.9 L971.7,2123.5 L974.7,2121.0 L977.7,2118.6 L980.7,2116.2 L983.7,2113.9 L986.7,2111.5 L989.7,2109.2 L992.7,2106.9 L995.7,2104.5 L998.7,2102.3 L1001.7,2100.0 L1004.7,2097.7 L1007.7,2095.5 L1010.7,2093.2 L1013.7,2091.0 L1016.7,2088.8 L1019.7,2086.7 L1022.7,2084.5 L1025.7,2082.4 L1028.7,2080.2 L1031.7,2078.1 L1034.7,2076.0 L1037.7,2073.9 L1040.7,2071.9 L1043.7,2069.8 L1046.7,2067.8 L1049.7,2065.8 L1052.7,2063.8 L1055.7,2061.8 L1058.7,2059.8 L1061.7,2057.8 L1064.7,2055.9 L1067.7,2054.0 L1070.7,2052.1 L1073.7,2050.2 L1076.7,2048.3 L1079.7,2046.4 L1082.7,2044.6 L1085.7,2042.8 L1088.7,2040.9 L1091.7,2039.1 L1094.7,2037.3 L1097.7,2035.6 L1100.7,2033.8 L1103.7,2032.1 L1106.7,2030.3 L1109.7,2028.6 L1112.7,2026.9 L1115.7,2025.3 L1118.7,2023.6 L1121.7,2021.9 L1124.7,2020.3 L1127.7,2018.7 L1130.7,2017.1 L1133.7,2015.5 L1136.7,2013.9 L1139.7,2012.4 L1142.7,2010.9 L1145.7,2009.3 L1148.7,2007.8 L1151.7,2006.3 L1154.7,2004.9 L1157.7,2003.4 L1160.7,2002.0 L1163.7,2000.6 L1166.7,1999.2 L1169.7,1997.8 L1172.7,1996.4 L1175.7,1995.0 L1178.7,1993.7 L1181.7,1992.4 L1184.7,1991.1 L1187.7,1989.8 L1190.7,1988.5 L1193.7,1987.3 L1196.7,1986.0 L1199.7,1984.8 L1202.7,1983.6 L1205.7,1982.4 L1208.7,1981.3 L1211.7,1980.1 L1214.7,1979.0 L1217.7,1977.9 L1220.7,1976.8 L1223.7,1975.7 L1226.7,1974.6 L1229.7,1973.6 L1232.7,1972.5 L1235.7,1971.5 L1238.7,1970.5 L1241.7,1969.5 L1244.7,1968.6 L1247.7,1967.6 L1250.7,1966.7 L1253.7,1965.7 L1256.7,1964.8 L1259.7,1963.9 L1262.7,1963.0 L1265.7,1962.2 L1268.7,1961.3 L1271.7,1960.5 L1274.7,1959.6 L1277.7,1958.8 L1280.7,1958.0 L1283.7,1957.2 L1286.7,1956.4 L1289.7,1955.7 L1292.7,1954.9 L1295.7,1954.2 L1298.7,1953.4 L1301.7,1952.7 L1304.7,1952.0 L1307.7,1951.3 L1310.7,1950.6 L1313.7,1949.9 L1316.7,1949.2 L1319.7,1948.6 L1322.7,1947.9 L1325.7,1947.2 L1328.7,1946.6 L1331.7,1946.0 L1334.7,1945.4 L1337.7,1944.7 L1340.7,1944.1 L1343.7,1943.5 L1346.7,1942.9 L1349.7,1942.4 L1352.7,1941.8 L1355.7,1941.2 L1358.7,1940.6 L1360.5,1940.3" fill="none" stroke="#868686" stroke-width="3.0" stroke-linejoin="round"/>
<path d="M281.7,2958.0 L284.7,2954.2 L287.7,2950.4 L290.7,2946.5 L293.7,2942.7 L296.7,2938.9 L299.7,2935.2 L302.7,2931.4 L305.7,2927.6 L308.7,2923.8 L311.7,2920.0 L314.7,2916.3 L317.7,2912.5 L320.7,2908.7 L323.7,2905.0 L326.7,2901.2 L329.7,2897.5 L332.7,2893.7 L335.7,2890.0 L338.7,2886.3 L341.7,2882.5 L344.7,2878.8 L347.7,2875.1 L350.7,2871.4 L353.7,2867.6 L356.7,2863.9 L359.7,2860.2 L362.7,2856.5 L365.7,2852.8 L368.7,2849.1 L371.7,2845.4 L374.7,2841.6 L377.7,2837.9 L380.7,2834.2 L383.7,2830.5 L386.7,2826.8 L389.7,2823.1 L392.7,2819.4 L395.7,2815.7 L398.7,2812.0 L401.7,2808.3 L404.7,2804.6 L407.7,2800.9 L410.7,2797.2 L413.7,2793.5 L416.7,2789.8 L419.7,2786.1 L422.7,2782.4 L425.7,2778.7 L428.7,2775.0 L431.7,2771.3 L434.7,2767.6 L437.7,2763.9 L440.7,2760.2 L443.7,2756.4 L446.7,2752.7 L449.7,2749.0 L452.7,2745.3 L455.7,2741.6 L458.7,2737.9 L461.7,2734.1 L464.7,2730.4 L467.7,2726.7 L470.7,2723.0 L473.7,2719.2 L476.7,2715.5 L479.7,2711.8 L482.7,2708.1 L485.7,2704.3 L488.7,2700.6 L491.7,2696.9 L494.7,2693.2 L497.7,2689.5 L500.7,2685.7 L503.7,2682.0 L506.7,2678.3 L509.7,2674.6 L512.7,2670.9 L515.7,2667.2 L518.7,2663.5 L521.7,2659.8 L524.7,2656.0 L527.7,2652.3 L530.7,2648.6 L533.7,2644.9 L536.7,2641.3 L539.7,2637.6 L542.7,2633.9 L545.7,2630.2 L548.7,2626.5 L551.7,2622.8 L554.7,2619.2 L557.7,2615.5 L560.7,2611.8 L563.7,2608.2 L566.7,2604.5 L569.7,2600.9 L572.7,2597.3 L575.7,2593.6 L578.7,2590.0 L581.7,2586.4 L584.7,2582.8 L587.7,2579.1 L590.7,2575.5 L593.7,2571.9 L596.7,2568.4 L599.7,2564.8 L602.7,2561.2 L605.7,2557.6 L608.7,2554.1 L611.7,2550.5 L614.7,2547.0 L617.7,2543.4 L620.7,2539.9 L623.7,2536.4 L626.7,2532.9 L629.7,2529.4 L632.7,2525.9 L635.7,2522.4 L638.7,2519.0 L641.7,2515.5 L644.7,2512.1 L647.7,2508.6 L650.7,2505.2 L653.7,2501.8 L656.7,2498.4 L659.7,2495.0 L662.7,2491.6 L665.7,2488.2 L668.7,2484.8 L671.7,2481.5 L674.7,2478.1 L677.7,2474.8 L680.7,2471.5 L683.7,2468.2 L686.7,2464.9 L689.7,2461.5 L692.7,2458.3 L695.7,2455.0 L698.7,2451.7 L701.7,2448.4 L704.7,2445.2 L707.7,2441.9 L710.7,2438.7 L713.7,2435.4 L716.7,2432.2 L719.7,2429.0 L722.7,2425.8 L725.7,2422.5 L728.7,2419.3 L731.7,2416.1 L734.7,2412.9 L737.7,2409.8 L740.7,2406.6 L743.7,2403.4 L746.7,2400.2 L749.7,2397.1 L752.7,2393.9 L755.7,2390.8 L758.7,2387.6 L761.7,2384.5 L764.7,2381.3 L767.7,2378.2 L770.7,2375.1 L773.7,2371.9 L776.7,2368.8 L779.7,2365.7 L782.7,2362.6 L785.7,2359.5 L788.7,2356.4 L791.7,2353.3 L794.7,2350.2 L797.7,2347.1 L800.7,2344.1 L803.7,2341.0 L806.7,2338.0 L809.7,2334.9 L812.7,2331.9 L815.7,2328.9 L818.7,2325.9 L821.7,2322.8 L824.7,2319.8 L827.7,2316.9 L830.7,2313.9 L833.7,2310.9 L836.7,2307.9 L839.7,2305.0 L842.7,2302.1 L845.7,2299.1 L848.7,2296.2 L851.7,2293.3 L854.7,2290.4 L857.7,2287.5 L860.7,2284.7 L863.7,2281.8 L866.7,2279.0 L869.7,2276.1 L872.7,2273.3 L875.7,2270.5 L878.7,2267.7 L881.7,2264.9 L884.7,2262.2 L887.7,2259.4 L890.7,2256.7 L893.7,2254.0 L896.7,2251.3 L899.7,2248.6 L902.7,2245.9 L905.7,2243.2 L908.7,2240.6 L911.7,2237.9 L914.7,2235.3 L917.7,2232.7 L920.7,2230.1 L923.7,2227.5 L926.7,2224.9 L929.7,2222.4 L932.7,2219.9 L935.7,2217.3 L938.7,2214.8 L941.7,2212.3 L944.7,2209.9 L947.7,2207.4 L950.7,2204.9 L953.7,2202.5 L956.7,2200.1 L959.7,2197.7 L962.7,2195.3 L965.7,2192.9 L968.7,2190.6 L971.7,2188.2 L974.7,2185.9 L977.7,2183.6 L980.7,2181.3 L983.7,2179.0 L986.7,2176.7 L989.7,2174.5 L992.7,2172.2 L995.7,2170.0 L998.7,2167.8 L1001.7,2165.6 L1004.7,2163.4 L1007.7,2161.3 L1010.7,2159.1 L1013.7,2157.0 L1016.7,2154.8 L1019.7,2152.7 L1022.7,2150.6 L1025.7,2148.5 L1028.7,2146.5 L1031.7,2144.4 L1034.7,2142.4 L1037.7,2140.3 L1040.7,2138.3 L1043.7,2136.3 L1046.7,2134.3 L1049.7,2132.3 L1052.7,2130.3 L1055.7,2128.3 L1058.7,2126.4 L1061.7,2124.4 L1064.7,2122.5 L1067.7,2120.6 L1070.7,2118.7 L1073.7,2116.8 L1076.7,2114.9 L1079.7,2113.0 L1082.7,2111.1 L1085.7,2109.3 L1088.7,2107.4 L1091.7,2105.6 L1094.7,2103.8 L1097.7,2101.9 L1100.7,2100.1 L1103.7,2098.4 L1106.7,2096.6 L1109.7,2094.8 L1112.7,2093.1 L1115.7,2091.4 L1118.7,2089.6 L1121.7,2087.9 L1124.7,2086.3 L1127.7,2084.6 L1130.7,2082.9 L1133.7,2081.3 L1136.7,2079.6 L1139.7,2078.0 L1142.7,2076.4 L1145.7,2074.8 L1148.7,2073.3 L1151.7,2071.7 L1154.7,2070.2 L1157.7,2068.6 L1160.7,2067.1 L1163.7,2065.6 L1166.7,2064.2 L1169.7,2062.7 L1172.7,2061.2 L1175.7,2059.8 L1178.7,2058.4 L1181.7,2057.0 L1184.7,2055.6 L1187.7,2054.3 L1190.7,2052.9 L1193.7,2051.6 L1196.7,2050.3 L1199.7,2049.0 L1202.7,2047.7 L1205.7,2046.5 L1208.7,2045.2 L1211.7,2044.0 L1214.7,2042.8 L1217.7,2041.7 L1220.7,2040.5 L1223.7,2039.3 L1226.7,2038.2 L1229.7,2037.1 L1232.7,2036.0 L1235.7,2035.0 L1238.7,2033.9 L1241.7,2032.9 L1244.7,2031.9 L1247.7,2030.9 L1250.7,2029.9 L1253.7,2029.0 L1256.7,2028.0 L1259.7,2027.1 L1262.7,2026.2 L1265.7,2025.4 L1268.7,2024.5 L1271.7,2023.6 L1274.7,2022.8 L1277.7,2022.0 L1280.7,2021.2 L1283.7,2020.4 L1286.7,2019.7 L1289.7,2018.9 L1292.7,2018.2 L1295.7,2017.5 L1298.7,2016.8 L1301.7,2016.1 L1304.7,2015.5 L1307.7,2014.8 L1310.7,2014.2 L1313.7,2013.6 L1316.7,2013.0 L1319.7,2012.4 L1322.7,2011.9 L1325.7,2011.3 L1328.7,2010.8 L1331.7,2010.3 L1334.7,2009.8 L1337.7,2009.3 L1340.7,2008.8 L1343.7,2008.3 L1346.7,2007.9 L1349.7,2007.4 L1352.7,2007.0 L1355.7,2006.6 L1358.7,2006.2 L1361.7,2005.9 L1364.7,2005.5 L1367.7,2005.1 L1370.7,2004.8 L1373.7,2004.5 L1376.7,2004.2 L1379.7,2003.9 L1382.7,2003.6 L1385.7,2003.3 L1388.7,2003.0 L1391.7,2002.8 L1394.7,2002.5 L1397.7,2002.3 L1400.7,2002.1 L1403.7,2001.9 L1406.7,2001.7 L1409.7,2001.5 L1412.7,2001.3 L1415.7,2001.2 L1418.7,2001.0 L1421.7,2000.9 L1424.7,2000.7 L1427.7,2000.6 L1430.7,2000.5 L1433.7,2000.4 L1436.7,2000.3 L1439.7,2000.2 L1442.7,2000.1 L1445.7,2000.1 L1448.7,2000.0 L1449.3,2000.0" fill="none" stroke="#449137" stroke-width="3.2" stroke-dasharray="31 13" stroke-linejoin="round"/>
<path d="M281.7,2958.0 L284.7,2954.7 L287.7,2951.4 L290.7,2948.0 L293.7,2944.7 L296.7,2941.3 L299.7,2938.0 L302.7,2934.6 L305.7,2931.2 L308.7,2927.8 L311.7,2924.3 L314.7,2920.9 L317.7,2917.5 L320.7,2914.0 L323.7,2910.5 L326.7,2907.0 L329.7,2903.5 L332.7,2900.0 L335.7,2896.5 L338.7,2893.0 L341.7,2889.4 L344.7,2885.9 L347.7,2882.3 L350.7,2878.7 L353.7,2875.2 L356.7,2871.6 L359.7,2868.0 L362.7,2864.3 L365.7,2860.7 L368.7,2857.1 L371.7,2853.4 L374.7,2849.8 L377.7,2846.1 L380.7,2842.4 L383.7,2838.8 L386.7,2835.1 L389.7,2831.4 L392.7,2827.7 L395.7,2823.9 L398.7,2820.2 L401.7,2816.5 L404.7,2812.8 L407.7,2809.0 L410.7,2805.3 L413.7,2801.5 L416.7,2797.7 L419.7,2794.0 L422.7,2790.2 L425.7,2786.4 L428.7,2782.6 L431.7,2778.8 L434.7,2775.0 L437.7,2771.2 L440.7,2767.4 L443.7,2763.6 L446.7,2759.7 L449.7,2755.9 L452.7,2752.1 L455.7,2748.2 L458.7,2744.4 L461.7,2740.5 L464.7,2736.7 L467.7,2732.8 L470.7,2729.0 L473.7,2725.1 L476.7,2721.3 L479.7,2717.4 L482.7,2713.5 L485.7,2709.7 L488.7,2705.8 L491.7,2701.9 L494.7,2698.1 L497.7,2694.2 L500.7,2690.3 L503.7,2686.4 L506.7,2682.5 L509.7,2678.7 L512.7,2674.8 L515.7,2670.9 L518.7,2667.0 L521.7,2663.1 L524.7,2659.2 L527.7,2655.4 L530.7,2651.5 L533.7,2647.6 L536.7,2643.7 L539.7,2639.8 L542.7,2636.0 L545.7,2632.1 L548.7,2628.2 L551.7,2624.3 L554.7,2620.5 L557.7,2616.6 L560.7,2612.7 L563.7,2608.9 L566.7,2605.0 L569.7,2601.2 L572.7,2597.3 L575.7,2593.5 L578.7,2589.6 L581.7,2585.8 L584.7,2581.9 L587.7,2578.1 L590.7,2574.3 L593.7,2570.4 L596.7,2566.6 L599.7,2562.8 L602.7,2559.0 L605.7,2555.2 L608.7,2551.4 L611.7,2547.6 L614.7,2543.8 L617.7,2540.0 L620.7,2536.2 L623.7,2532.5 L626.7,2528.7 L629.7,2524.9 L632.7,2521.2 L635.7,2517.4 L638.7,2513.7 L641.7,2510.0 L644.7,2506.2 L647.7,2502.5 L650.7,2498.8 L653.7,2495.1 L656.7,2491.4 L659.7,2487.7 L662.7,2484.1 L665.7,2480.4 L668.7,2476.7 L671.7,2473.1 L674.7,2469.4 L677.7,2465.8 L680.7,2462.2 L683.7,2458.5 L686.7,2454.9 L689.7,2451.3 L692.7,2447.7 L695.7,2444.2 L698.7,2440.6 L701.7,2437.0 L704.7,2433.5 L707.7,2429.9 L710.7,2426.4 L713.7,2422.9 L716.7,2419.4 L719.7,2415.9 L722.7,2412.4 L725.7,2408.9 L728.7,2405.4 L731.7,2402.0 L734.7,2398.5 L737.7,2395.1 L740.7,2391.7 L743.7,2388.3 L746.7,2384.9 L749.7,2381.5 L752.7,2378.1 L755.7,2374.8 L758.7,2371.4 L761.7,2368.1 L764.7,2364.7 L767.7,2361.4 L770.7,2358.1 L773.7,2354.8 L776.7,2351.6 L779.7,2348.3 L782.7,2345.1 L785.7,2341.8 L788.7,2338.6 L791.7,2335.4 L794.7,2332.2 L797.7,2329.0 L800.7,2325.8 L803.7,2322.7 L806.7,2319.5 L809.7,2316.4 L812.7,2313.3 L815.7,2310.2 L818.7,2307.1 L821.7,2304.1 L824.7,2301.0 L827.7,2298.0 L830.7,2294.9 L833.7,2291.9 L836.7,2288.9 L839.7,2285.9 L842.7,2283.0 L845.7,2280.0 L848.7,2277.1 L851.7,2274.1 L854.7,2271.2 L857.7,2268.3 L860.7,2265.4 L863.7,2262.6 L866.7,2259.7 L869.7,2256.9 L872.7,2254.1 L875.7,2251.3 L878.7,2248.5 L881.7,2245.7 L884.7,2242.9 L887.7,2240.2 L890.7,2237.5 L893.7,2234.8 L896.7,2232.1 L899.7,2229.4 L902.7,2226.7 L905.7,2224.1 L908.7,2221.4 L911.7,2218.8 L914.7,2216.2 L917.7,2213.6 L920.7,2211.1 L923.7,2208.5 L926.7,2206.0 L929.7,2203.4 L932.7,2200.9 L935.7,2198.4 L938.7,2196.0 L941.7,2193.5 L944.7,2191.1 L947.7,2188.6 L950.7,2186.2 L953.7,2183.8 L956.7,2181.4 L959.7,2179.1 L962.7,2176.7 L965.7,2174.4 L968.7,2172.0 L971.7,2169.7 L974.7,2167.4 L977.7,2165.2 L980.7,2162.9 L983.7,2160.6 L986.7,2158.4 L989.7,2156.2 L992.7,2154.0 L995.7,2151.8 L998.7,2149.6 L1001.7,2147.4 L1004.7,2145.3 L1007.7,2143.2 L1010.7,2141.0 L1013.7,2138.9 L1016.7,2136.8 L1019.7,2134.8 L1022.7,2132.7 L1025.7,2130.7 L1028.7,2128.6 L1031.7,2126.6 L1034.7,2124.6 L1037.7,2122.6 L1040.7,2120.6 L1043.7,2118.6 L1046.7,2116.7 L1049.7,2114.7 L1052.7,2112.8 L1055.7,2110.9 L1058.7,2109.0 L1061.7,2107.1 L1064.7,2105.2 L1067.7,2103.3 L1070.7,2101.5 L1073.7,2099.6 L1076.7,2097.8 L1079.7,2096.0 L1082.7,2094.2 L1085.7,2092.4 L1088.7,2090.6 L1091.7,2088.8 L1094.7,2087.1 L1097.7,2085.3 L1100.7,2083.6 L1103.7,2081.8 L1106.7,2080.1 L1109.7,2078.4 L1112.7,2076.7 L1115.7,2075.1 L1118.7,2073.4 L1121.7,2071.7 L1124.7,2070.1 L1127.7,2068.4 L1130.7,2066.8 L1133.7,2065.2 L1136.7,2063.6 L1139.7,2062.0 L1142.7,2060.4 L1145.7,2058.8 L1148.7,2057.3 L1151.7,2055.7 L1154.7,2054.2 L1157.7,2052.6 L1160.7,2051.1 L1163.7,2049.6 L1166.7,2048.1 L1169.7,2046.6 L1172.7,2045.1 L1175.7,2043.6 L1178.7,2042.2 L1181.7,2040.7 L1184.7,2039.3 L1187.7,2037.8 L1190.7,2036.4 L1193.7,2035.0 L1196.7,2033.6 L1199.7,2032.2 L1202.7,2030.8 L1205.7,2029.5 L1208.7,2028.1 L1211.7,2026.8 L1214.7,2025.4 L1217.7,2024.1 L1220.7,2022.8 L1223.7,2021.5 L1226.7,2020.2 L1229.7,2018.9 L1232.7,2017.7 L1235.7,2016.4 L1238.7,2015.2 L1241.7,2013.9 L1244.7,2012.7 L1247.7,2011.5 L1250.7,2010.3 L1253.7,2009.1 L1256.7,2008.0 L1259.7,2006.8 L1262.7,2005.7 L1265.7,2004.5 L1268.7,2003.4 L1271.7,2002.3 L1274.7,2001.2 L1277.7,2000.1 L1280.7,1999.0 L1283.7,1998.0 L1286.7,1996.9 L1289.7,1995.9 L1292.7,1994.9 L1295.7,1993.8 L1298.7,1992.8 L1301.7,1991.9 L1304.7,1990.9 L1307.7,1989.9 L1310.7,1989.0 L1313.7,1988.1 L1316.7,1987.1 L1319.7,1986.2 L1322.7,1985.3 L1325.7,1984.5 L1328.7,1983.6 L1331.7,1982.7 L1334.7,1981.9 L1337.7,1981.1 L1340.7,1980.3 L1343.7,1979.5 L1346.7,1978.7 L1349.7,1977.9 L1352.7,1977.2 L1355.7,1976.4 L1358.7,1975.7 L1361.7,1975.0 L1364.7,1974.3 L1367.7,1973.6 L1370.7,1972.9 L1373.7,1972.3 L1376.7,1971.6 L1379.7,1971.0 L1382.7,1970.4 L1385.7,1969.8 L1388.7,1969.2 L1391.7,1968.6 L1394.7,1968.1 L1397.7,1967.5 L1400.7,1967.0 L1403.7,1966.5 L1405.6,1966.2" fill="none" stroke="#bf5216" stroke-width="3.2" stroke-dasharray="30 12 4.5 12" stroke-linejoin="round"/>
<path d="M281.7,2958.0 L284.7,2953.8 L287.7,2949.7 L290.7,2945.5 L293.7,2941.4 L296.7,2937.3 L299.7,2933.2 L302.7,2929.2 L305.7,2925.2 L308.7,2921.2 L311.7,2917.2 L314.7,2913.2 L317.7,2909.2 L320.7,2905.3 L323.7,2901.4 L326.7,2897.5 L329.7,2893.6 L332.7,2889.7 L335.7,2885.8 L338.7,2882.0 L341.7,2878.2 L344.7,2874.4 L347.7,2870.6 L350.7,2866.8 L353.7,2863.0 L356.7,2859.3 L359.7,2855.6 L362.7,2851.8 L365.7,2848.1 L368.7,2844.4 L371.7,2840.8 L374.7,2837.1 L377.7,2833.4 L380.7,2829.8 L383.7,2826.1 L386.7,2822.5 L389.7,2818.9 L392.7,2815.3 L395.7,2811.7 L398.7,2808.1 L401.7,2804.6 L404.7,2801.0 L407.7,2797.5 L410.7,2793.9 L413.7,2790.4 L416.7,2786.9 L419.7,2783.3 L422.7,2779.8 L425.7,2776.3 L428.7,2772.8 L431.7,2769.4 L434.7,2765.9 L437.7,2762.4 L440.7,2758.9 L443.7,2755.5 L446.7,2752.0 L449.7,2748.6 L452.7,2745.1 L455.7,2741.7 L458.7,2738.2 L461.7,2734.8 L464.7,2731.4 L467.7,2727.9 L470.7,2724.5 L473.7,2721.1 L476.7,2717.7 L479.7,2714.2 L482.7,2710.8 L485.7,2707.4 L488.7,2704.0 L491.7,2700.6 L494.7,2697.2 L497.7,2693.8 L500.7,2690.3 L503.7,2686.9 L506.7,2683.5 L509.7,2680.1 L512.7,2676.7 L515.7,2673.3 L518.7,2669.9 L521.7,2666.4 L524.7,2663.0 L527.7,2659.6 L530.7,2656.2 L533.7,2652.7 L536.7,2649.3 L539.7,2645.9 L542.7,2642.5 L545.7,2639.0 L548.7,2635.6 L551.7,2632.2 L554.7,2628.7 L557.7,2625.3 L560.7,2621.9 L563.7,2618.4 L566.7,2615.0 L569.7,2611.6 L572.7,2608.2 L575.7,2604.7 L578.7,2601.3 L581.7,2597.9 L584.7,2594.4 L587.7,2591.0 L590.7,2587.6 L593.7,2584.2 L596.7,2580.8 L599.7,2577.4 L602.7,2573.9 L605.7,2570.5 L608.7,2567.1 L611.7,2563.7 L614.7,2560.3 L617.7,2556.9 L620.7,2553.6 L623.7,2550.2 L626.7,2546.8 L629.7,2543.4 L632.7,2540.0 L635.7,2536.7 L638.7,2533.3 L641.7,2529.9 L644.7,2526.6 L647.7,2523.2 L650.7,2519.9 L653.7,2516.6 L656.7,2513.2 L659.7,2509.9 L662.7,2506.6 L665.7,2503.3 L668.7,2500.0 L671.7,2496.7 L674.7,2493.4 L677.7,2490.1 L680.7,2486.8 L683.7,2483.5 L686.7,2480.3 L689.7,2477.0 L692.7,2473.8 L695.7,2470.5 L698.7,2467.3 L701.7,2464.1 L704.7,2460.9 L707.7,2457.7 L710.7,2454.5 L713.7,2451.3 L716.7,2448.1 L719.7,2444.9 L722.7,2441.8 L725.7,2438.6 L728.7,2435.5 L731.7,2432.3 L734.7,2429.2 L737.7,2426.1 L740.7,2423.0 L743.7,2419.9 L746.7,2416.8 L749.7,2413.7 L752.7,2410.6 L755.7,2407.6 L758.7,2404.5 L761.7,2401.5 L764.7,2398.4 L767.7,2395.4 L770.7,2392.4 L773.7,2389.4 L776.7,2386.4 L779.7,2383.4 L782.7,2380.4 L785.7,2377.4 L788.7,2374.5 L791.7,2371.5 L794.7,2368.6 L797.7,2365.7 L800.7,2362.7 L803.7,2359.8 L806.7,2356.9 L809.7,2354.1 L812.7,2351.2 L815.7,2348.3 L818.7,2345.5 L821.7,2342.6 L824.7,2339.8 L827.7,2337.0 L830.7,2334.2 L833.7,2331.4 L836.7,2328.6 L839.7,2325.8 L842.7,2323.1 L845.7,2320.3 L848.7,2317.6 L851.7,2314.8 L854.7,2312.1 L857.7,2309.4 L860.7,2306.7 L863.7,2304.0 L866.7,2301.4 L869.7,2298.7 L872.7,2296.1 L875.7,2293.4 L878.7,2290.8 L881.7,2288.2 L884.7,2285.6 L887.7,2283.0 L890.7,2280.5 L893.7,2277.9 L896.7,2275.4 L899.7,2272.8 L902.7,2270.3 L905.7,2267.8 L908.7,2265.3 L911.7,2262.8 L914.7,2260.4 L917.7,2257.9 L920.7,2255.5 L923.7,2253.0 L926.7,2250.6 L929.7,2248.2 L932.7,2245.8 L935.7,2243.4 L938.7,2241.0 L941.7,2238.7 L944.7,2236.3 L947.7,2234.0 L950.7,2231.7 L953.7,2229.3 L956.7,2227.0 L959.7,2224.7 L962.7,2222.5 L965.7,2220.2 L968.7,2217.9 L971.7,2215.7 L974.7,2213.5 L977.7,2211.2 L980.7,2209.0 L983.7,2206.8 L986.7,2204.6 L989.7,2202.4 L992.7,2200.3 L995.7,2198.1 L998.7,2195.9 L1001.7,2193.8 L1004.7,2191.7 L1007.7,2189.5 L1010.7,2187.4 L1013.7,2185.3 L1016.7,2183.2 L1019.7,2181.2 L1022.7,2179.1 L1025.7,2177.0 L1028.7,2175.0 L1031.7,2172.9 L1034.7,2170.9 L1037.7,2168.9 L1040.7,2166.9 L1043.7,2164.9 L1046.7,2162.9 L1049.7,2160.9 L1052.7,2158.9 L1055.7,2157.0 L1058.7,2155.0 L1061.7,2153.1 L1064.7,2151.1 L1067.7,2149.2 L1070.7,2147.3 L1073.7,2145.4 L1076.7,2143.5 L1079.7,2141.6 L1082.7,2139.7 L1085.7,2137.8 L1088.7,2136.0 L1091.7,2134.1 L1094.7,2132.3 L1097.7,2130.4 L1100.7,2128.6 L1103.7,2126.8 L1106.7,2125.0 L1109.7,2123.2 L1112.7,2121.4 L1115.7,2119.7 L1118.7,2117.9 L1121.7,2116.2 L1124.7,2114.4 L1127.7,2112.7 L1130.7,2111.0 L1133.7,2109.3 L1136.7,2107.6 L1139.7,2105.9 L1142.7,2104.3 L1145.7,2102.6 L1148.7,2101.0 L1151.7,2099.4 L1154.7,2097.8 L1157.7,2096.2 L1160.7,2094.6 L1163.7,2093.1 L1166.7,2091.5 L1169.7,2090.0 L1172.7,2088.5 L1175.7,2087.0 L1178.7,2085.5 L1181.7,2084.0 L1184.7,2082.6 L1187.7,2081.1 L1190.7,2079.7 L1193.7,2078.3 L1196.7,2076.9 L1199.7,2075.5 L1202.7,2074.2 L1205.7,2072.8 L1208.7,2071.5 L1211.7,2070.2 L1214.7,2068.9 L1217.7,2067.6 L1220.7,2066.4 L1223.7,2065.1 L1226.7,2063.9 L1229.7,2062.7 L1232.7,2061.5 L1235.7,2060.3 L1238.7,2059.2 L1241.7,2058.1 L1244.7,2056.9 L1247.7,2055.9 L1250.7,2054.8 L1253.7,2053.7 L1256.7,2052.7 L1259.7,2051.7 L1262.7,2050.7 L1265.7,2049.7 L1268.7,2048.7 L1271.7,2047.8 L1274.7,2046.9 L1277.7,2046.0 L1280.7,2045.1 L1283.7,2044.2 L1286.7,2043.4 L1289.7,2042.5 L1292.7,2041.7 L1295.7,2040.9 L1298.7,2040.2 L1301.7,2039.4 L1304.7,2038.6 L1307.7,2037.9 L1310.7,2037.2 L1313.7,2036.5 L1316.7,2035.8 L1319.7,2035.2 L1322.7,2034.5 L1325.7,2033.9 L1328.7,2033.3 L1331.7,2032.7 L1334.7,2032.1 L1337.7,2031.5 L1340.7,2030.9 L1343.7,2030.4 L1346.7,2029.9 L1349.7,2029.4 L1352.7,2028.9 L1355.7,2028.4 L1358.7,2027.9 L1361.7,2027.5 L1364.7,2027.0 L1367.7,2026.6 L1370.7,2026.2 L1373.7,2025.8 L1376.7,2025.4 L1379.7,2025.0 L1382.7,2024.7 L1385.7,2024.3 L1388.7,2024.0 L1391.7,2023.7 L1394.7,2023.4 L1397.7,2023.1 L1400.7,2022.8 L1403.7,2022.5 L1406.7,2022.2 L1409.7,2022.0 L1412.7,2021.7 L1415.7,2021.5 L1418.7,2021.3 L1421.7,2021.1 L1424.7,2020.9 L1427.7,2020.7 L1430.7,2020.5 L1433.7,2020.4 L1436.7,2020.2 L1439.7,2020.1 L1442.7,2019.9 L1445.7,2019.8 L1448.7,2019.7 L1451.7,2019.6 L1454.7,2019.5 L1457.7,2019.4 L1460.7,2019.3 L1463.7,2019.2 L1466.7,2019.2 L1469.7,2019.1 L1472.7,2019.1 L1475.7,2019.0 L1478.7,2019.0 L1481.7,2019.0 L1484.7,2019.0 L1487.7,2019.0 L1490.7,2019.0 L1493.7,2019.0 L1496.7,2019.0 L1499.7,2019.0 L1502.0,2019.0" fill="none" stroke="#12337f" stroke-width="3.4" stroke-dasharray="9.5 6.5" stroke-linejoin="round"/>
<rect x="281.7" y="1781.5" width="1361.8" height="1176.5" fill="none" stroke="#000" stroke-width="4"/>
<line x1="281.7" y1="2860.0" x2="293.7" y2="2860.0" stroke="#000" stroke-width="4"/>
<line x1="281.7" y1="2761.9" x2="296.7" y2="2761.9" stroke="#000" stroke-width="4"/>
<line x1="281.7" y1="2663.9" x2="293.7" y2="2663.9" stroke="#000" stroke-width="4"/>
<line x1="281.7" y1="2565.8" x2="296.7" y2="2565.8" stroke="#000" stroke-width="4"/>
<line x1="281.7" y1="2467.8" x2="293.7" y2="2467.8" stroke="#000" stroke-width="4"/>
<line x1="281.7" y1="2369.8" x2="296.7" y2="2369.8" stroke="#000" stroke-width="4"/>
<line x1="281.7" y1="2271.7" x2="293.7" y2="2271.7" stroke="#000" stroke-width="4"/>
<line x1="281.7" y1="2173.7" x2="296.7" y2="2173.7" stroke="#000" stroke-width="4"/>
<line x1="281.7" y1="2075.6" x2="293.7" y2="2075.6" stroke="#000" stroke-width="4"/>
<line x1="281.7" y1="1977.6" x2="296.7" y2="1977.6" stroke="#000" stroke-width="4"/>
<line x1="281.7" y1="1879.5" x2="293.7" y2="1879.5" stroke="#000" stroke-width="4"/>
<line x1="379.0" y1="2958" x2="379.0" y2="2945.0" stroke="#000" stroke-width="3.5"/>
<line x1="476.2" y1="2958" x2="476.2" y2="2942.0" stroke="#000" stroke-width="3.5"/>
<line x1="573.5" y1="2958" x2="573.5" y2="2945.0" stroke="#000" stroke-width="3.5"/>
<line x1="670.8" y1="2958" x2="670.8" y2="2942.0" stroke="#000" stroke-width="3.5"/>
<line x1="768.1" y1="2958" x2="768.1" y2="2945.0" stroke="#000" stroke-width="3.5"/>
<line x1="865.3" y1="2958" x2="865.3" y2="2942.0" stroke="#000" stroke-width="3.5"/>
<line x1="962.6" y1="2958" x2="962.6" y2="2945.0" stroke="#000" stroke-width="3.5"/>
<line x1="1059.9" y1="2958" x2="1059.9" y2="2942.0" stroke="#000" stroke-width="3.5"/>
<line x1="1157.1" y1="2958" x2="1157.1" y2="2945.0" stroke="#000" stroke-width="3.5"/>
<line x1="1254.4" y1="2958" x2="1254.4" y2="2942.0" stroke="#000" stroke-width="3.5"/>
<line x1="1351.7" y1="2958" x2="1351.7" y2="2945.0" stroke="#000" stroke-width="3.5"/>
<line x1="1449.0" y1="2958" x2="1449.0" y2="2942.0" stroke="#000" stroke-width="3.5"/>
<line x1="1546.2" y1="2958" x2="1546.2" y2="2945.0" stroke="#000" stroke-width="3.5"/>
<text transform="translate(233.5,2971.5) scale(1.1,1)" text-anchor="end" class="tk" font-size="50">0</text>
<text transform="translate(233.5,2775.4) scale(1.1,1)" text-anchor="end" class="tk" font-size="50">20</text>
<text transform="translate(233.5,2579.3) scale(1.1,1)" text-anchor="end" class="tk" font-size="50">40</text>
<text transform="translate(233.5,2383.2) scale(1.1,1)" text-anchor="end" class="tk" font-size="50">60</text>
<text transform="translate(233.5,2187.2) scale(1.1,1)" text-anchor="end" class="tk" font-size="50">80</text>
<text transform="translate(233.5,1991.1) scale(1.1,1)" text-anchor="end" class="tk" font-size="50">100</text>
<text transform="translate(233.5,1795.0) scale(1.1,1)" text-anchor="end" class="tk" font-size="50">120</text>
<text transform="translate(273.2,3031) scale(1.1,1)" text-anchor="middle" class="tk" font-size="50">0</text>
<text transform="translate(467.7,3031) scale(1.1,1)" text-anchor="middle" class="tk" font-size="50">1,000</text>
<text transform="translate(662.3,3031) scale(1.1,1)" text-anchor="middle" class="tk" font-size="50">2,000</text>
<text transform="translate(856.8,3031) scale(1.1,1)" text-anchor="middle" class="tk" font-size="50">3,000</text>
<text transform="translate(1051.4,3031) scale(1.1,1)" text-anchor="middle" class="tk" font-size="50">4,000</text>
<text transform="translate(1245.9,3031) scale(1.1,1)" text-anchor="middle" class="tk" font-size="50">5,000</text>
<text transform="translate(1440.5,3031) scale(1.1,1)" text-anchor="middle" class="tk" font-size="50">6,000</text>
<text transform="translate(1635.0,3031) scale(1.1,1)" text-anchor="middle" class="tk" font-size="50">7,000</text>
<text transform="translate(101.5,2359) rotate(-90) scale(0.895,1)" text-anchor="middle" class="bt" font-size="80">Compressive stress (MPa)</text>
<text transform="translate(719.3,3124.5) scale(1.065,1)" class="bt" font-size="75">Strain</text>
<text transform="translate(933.7,3124.5) scale(1.1,1)" class="tk" font-size="75">(</text>
<text transform="translate(964.2,3124.5) scale(1.1,1)" class="bt" font-size="75">×</text>
<text transform="translate(1016.7,3124.5) scale(1.1,1)" class="bt" font-size="75">10</text>
<text transform="translate(1098.7,3099.5) scale(1.1,1)" class="tk" font-size="46">-</text>
<text transform="translate(1116.9,3100.7) scale(1.1,1)" class="bt" font-size="47">6</text>
<text transform="translate(1143.6,3124.5) scale(1.1,1)" class="tk" font-size="75">)</text>
<rect x="1121" y="2653" width="499" height="267" fill="#fff" stroke="#000" stroke-width="4"/>
<line x1="1121" y1="2731" x2="1620" y2="2731" stroke="#000" stroke-width="4"/>
<text transform="translate(1370.5,2707) scale(1.04,1)" text-anchor="middle" class="tk" font-size="46">Filler type</text>
<line x1="1153.3" y1="2780" x2="1257.8" y2="2780" stroke="#868686" stroke-width="3.6"/>
<text transform="translate(1266,2789.8) scale(0.950,1)" class="lg" font-size="33" letter-spacing="1.5">SF</text>
<line x1="1403.4" y1="2780" x2="1495.7" y2="2780" stroke="#bf5216" stroke-width="4.2" stroke-dasharray="33 11 5 11"/>
<text transform="translate(1513,2789.8) scale(0.950,1)" class="lg" font-size="33" letter-spacing="1.5">GCC</text>
<line x1="1153.3" y1="2873.4" x2="1257.8" y2="2873.4" stroke="#449137" stroke-width="4.2" stroke-dasharray="35 11"/>
<text transform="translate(1266,2883.5) scale(0.950,1)" class="lg" font-size="33" letter-spacing="1.5">BFS</text>
<line x1="1403.4" y1="2873.4" x2="1505.9" y2="2873.4" stroke="#12337f" stroke-width="4" stroke-dasharray="11.5 5"/>
<text transform="translate(1513,2883.5) scale(1.045,1)" class="lg" font-size="33" letter-spacing="3.5">FA</text>
<text x="819.5" y="3333.5" class="cap" font-size="85">(<tspan font-weight="bold">b</tspan>)</text>
</svg>
</body></html>
